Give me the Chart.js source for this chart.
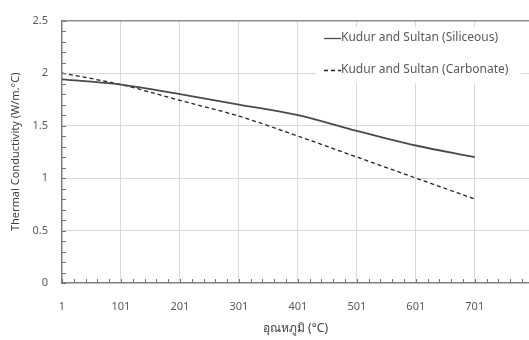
<!DOCTYPE html>
<html><head><meta charset="utf-8">
<script src="https://cdn.jsdelivr.net/npm/chart.js@4/dist/chart.umd.min.js"></script>
<style>html,body{margin:0;padding:0;background:#fff}#wrap{width:529px;height:340px;position:relative}</style>
</head><body><div id="wrap"><canvas id="c" width="529" height="340"></canvas></div>
<script>
const temperatures = [1, 101, 201, 301, 401, 501, 601, 701];
const siliceous = [1.94, 1.89, 1.80, 1.70, 1.60, 1.45, 1.31, 1.20];
const carbonate = [2.00, 1.89, 1.74, 1.59, 1.40, 1.20, 1.00, 0.80];
const xTickLabels = ['1','101','201','301','401','501','601','701'];
const yTickValues = [0, 0.5, 1, 1.5, 2, 2.5];
const yTickLabels = ['0', '0.5', '1', '1.5', '2', '2.5'];
const seriesNames = ['Kudur and Sultan (Siliceous)', 'Kudur and Sultan (Carbonate)'];
const xTitle = 'อุณหภูมิ (°C)';
const yTitle = 'Thermal Conductivity (W/m.°C)';

const FONT = "'Noto Sans', 'DejaVu Sans', sans-serif";
const TXT = '#595959';

const minorTicks = {
  id: 'minorTicks',
  afterDraw(chart) {
    const ctx = chart.ctx;
    const x = chart.scales.x, y = chart.scales.y, a = chart.chartArea;
    ctx.save();
    ctx.strokeStyle = '#737373';
    ctx.lineWidth = 1;
    ctx.setLineDash([]);
    ctx.beginPath();
    for (let v = 1; v <= x.max; v += 20) {
      const px = Math.round(x.getPixelForValue(v)) + 0.5;
      ctx.moveTo(px, a.bottom); ctx.lineTo(px, a.bottom - 4);
    }
    for (let k = 0; k <= 25; k++) {
      const py = Math.round(y.getPixelForValue(k / 10)) + 0.5;
      ctx.moveTo(a.left, py); ctx.lineTo(a.left + 4, py);
    }
    ctx.stroke();
    ctx.restore();
  }
};

const boxLegend = {
  id: 'boxLegend',
  afterDraw(chart) {
    const ctx = chart.ctx;
    ctx.save();
    ctx.fillStyle = '#fff';
    ctx.fillRect(316, 27, 205, 56);
    ctx.font = '12px ' + FONT;
    ctx.textBaseline = 'middle';
    ctx.fillStyle = TXT;
    const rows = [{y: 38, dash: []}, {y: 70, dash: [4, 3]}];
    chart.data.datasets.forEach((ds, i) => {
      const r = rows[i];
      ctx.strokeStyle = ds.borderColor;
      ctx.lineWidth = 1.3;
      ctx.setLineDash(r.dash);
      ctx.beginPath(); ctx.moveTo(324, r.y + 0.5); ctx.lineTo(341, r.y + 0.5); ctx.stroke();
      ctx.setLineDash([]);
      ctx.fillText(ds.label, 341, r.y);
    });
    ctx.restore();
  }
};

new Chart(document.getElementById('c'), {
  type: 'line',
  data: {
    datasets: [
      {label: seriesNames[0], data: temperatures.map((t, i) => ({x: t, y: siliceous[i]})),
       borderColor: '#4a4a4a', borderWidth: 1.8, pointRadius: 0, tension: 0.4, cubicInterpolationMode: 'monotone', fill: false},
      {label: seriesNames[1], data: temperatures.map((t, i) => ({x: t, y: carbonate[i]})),
       borderColor: '#222222', borderWidth: 1.3, borderDash: [4, 3], pointRadius: 0, tension: 0.4, cubicInterpolationMode: 'monotone', fill: false}
    ]
  },
  options: {
    responsive: false, animation: false, devicePixelRatio: 1,
    layout: {padding: {top: 16, right: 0, left: 0, bottom: 0}},
    plugins: {legend: {display: false}, tooltip: {enabled: false}},
    scales: {
      x: {
        type: 'linear', min: 1, max: 793,
        afterBuildTicks(s) { s.ticks = temperatures.map(v => ({value: v})); },
        afterFit(s) { s.height = 57; },
        ticks: {callback: (v, i) => xTickLabels[i], color: TXT, font: {family: FONT, size: 11}, padding: 17, maxRotation: 0},
        grid: {color: c => c.tick && c.tick.value === 1 ? 'rgba(0,0,0,0)' : '#d9d9d9', drawTicks: false, lineWidth: 1},
        border: {display: true, color: '#808080', width: 1.5},
        title: {display: true, text: xTitle, color: '#404040', font: {family: FONT, size: 12}, padding: {top: 0}}
      },
      y: {
        min: 0, max: 2.5,
        afterBuildTicks(s) { s.ticks = yTickValues.map(v => ({value: v})); },
        afterFit(s) { s.width = 62; },
        ticks: {callback: (v, i) => yTickLabels[i], color: TXT, font: {family: FONT, size: 11}, padding: 14},
        grid: {color: c => c.tick && c.tick.value === 2.5 ? '#8c8c8c' : (c.tick && c.tick.value === 0 ? 'rgba(0,0,0,0)' : '#d9d9d9'), lineWidth: c => c.tick && c.tick.value === 2.5 ? 1.5 : 1, drawTicks: false},
        border: {display: true, color: '#808080', width: 1.5},
        title: {display: true, text: yTitle, color: '#404040', font: {family: FONT, size: 11}, padding: {top: 9, bottom: 0}}
      }
    }
  },
  plugins: [minorTicks, boxLegend]
});
</script></body></html>
